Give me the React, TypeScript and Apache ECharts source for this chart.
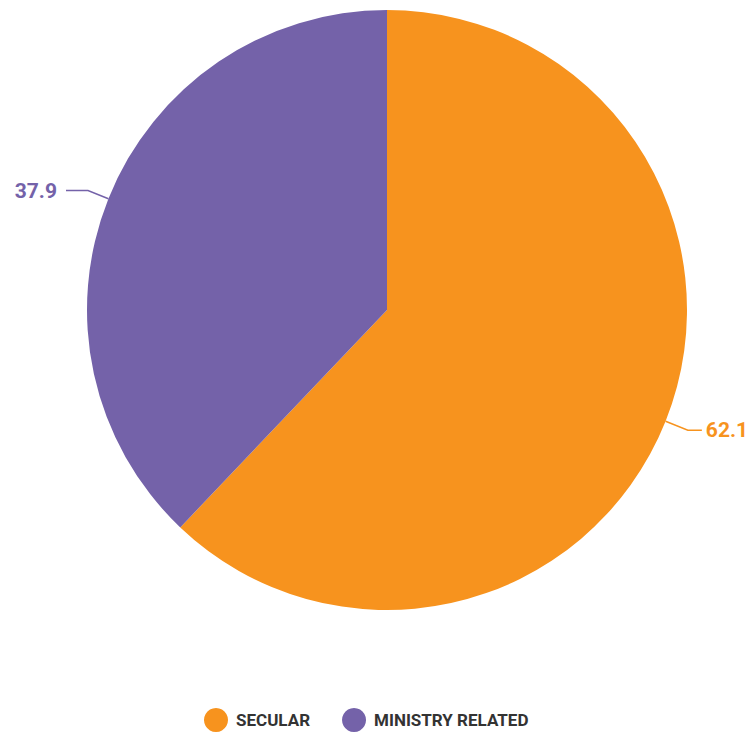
import React, { useEffect, useRef } from "react";
import * as echarts from "echarts";

const categories = ["SECULAR", "MINISTRY RELATED"];
const values = [62.1, 37.9];
const colors = ["#F7931E", "#7462A9"];

export default function App() {
  const ref = useRef<HTMLDivElement>(null);
  useEffect(() => {
    document.body.style.margin = "0";
    const chart = echarts.init(ref.current!, undefined, { renderer: "svg" });
    const font = "Roboto, 'Liberation Sans Narrow', sans-serif";
    chart.setOption({
      animation: false,
      color: colors,
      legend: {
        bottom: 2,
        left: 204,
        padding: 0,
        icon: "circle",
        itemWidth: 24,
        itemHeight: 24,
        itemGap: 32,
        data: categories,
        textStyle: { fontFamily: font, fontWeight: "bold", fontSize: 17, color: "#333333", padding: [0, 0, 0, 3] },
      },
      series: [
        {
          type: "pie",
          center: [387, 310],
          radius: 300,
          startAngle: 90,
          clockwise: true,
          avoidLabelOverlap: false,
          data: categories.map((c, i) => ({
            name: c,
            value: values[i],
            itemStyle: { color: colors[i] },
            label: { color: colors[i], distanceToLabelLine: i === 0 ? 4 : 9 },
            labelLine: {
              length: i === 0 ? 24 : 22,
              length2: i === 0 ? 14 : 22,
              lineStyle: { color: colors[i] },
            },
          })),
          label: {
            show: true,
            position: "outside",
            formatter: (p: any) => p.value.toFixed(1),
            fontFamily: font,
            fontWeight: "bold",
            fontSize: 21,
          },
          labelLine: {
            show: true,
            lineStyle: { width: 1.5 },
          },
          emphasis: { disabled: true },
        },
      ],
    });
    return () => chart.dispose();
  }, []);
  return <div ref={ref} style={{ width: 752, height: 734 }} />;
}
